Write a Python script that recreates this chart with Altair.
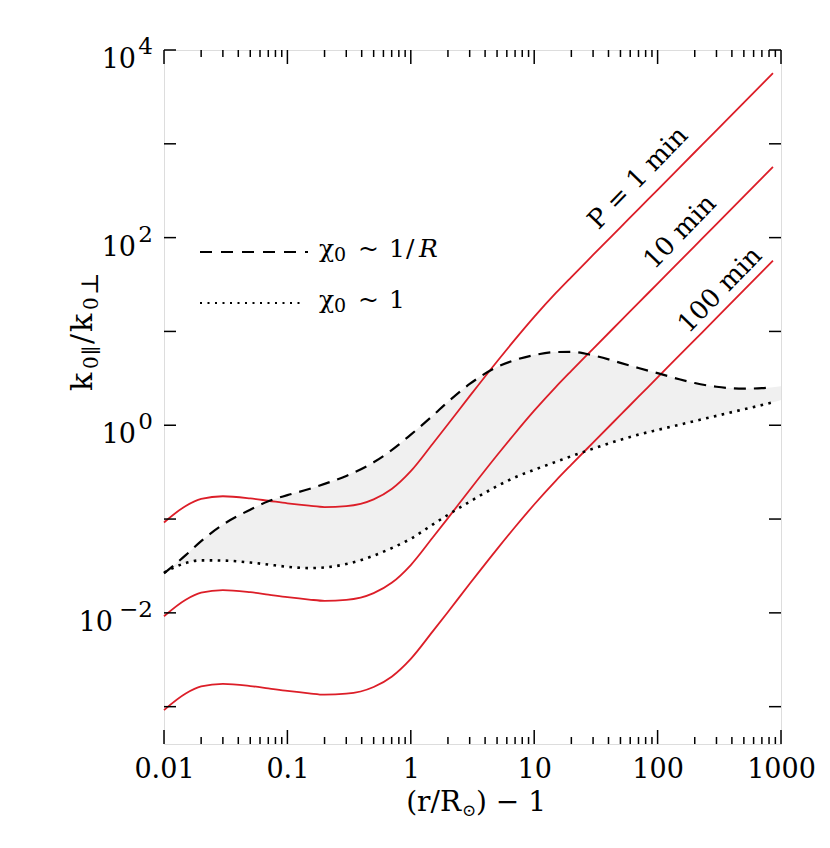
import altair as alt
import pandas as pd

# ---------------- data ----------------
X = [0.01, 0.015, 0.02, 0.03, 0.05, 0.07, 0.1, 0.15, 0.2, 0.3, 0.5, 0.7, 1, 1.5, 2, 3,
     5, 7, 10, 15, 20, 30, 50, 70, 100, 150, 200, 300, 500, 700, 860]
P1 = [0.0920, 0.1380, 0.1641, 0.1750, 0.1660, 0.1567, 0.1472, 0.1387, 0.1343, 0.1374,
      0.1622, 0.2089, 0.3236, 0.631, 1.023, 2.042, 4.786, 8.222, 14.29, 25.70, 38.02,
      65.31, 128.8, 201.4, 323.6, 554.6, 812.8, 1393, 2754, 4305, 5675]
P10 = [0.00920, 0.01380, 0.01641, 0.01750, 0.01660, 0.01567, 0.01472, 0.01387, 0.01343,
       0.01374, 0.01622, 0.02089, 0.03236, 0.0631, 0.1023, 0.2042, 0.4786, 0.8222, 1.429,
       2.570, 3.802, 6.531, 12.88, 20.14, 32.36, 55.46, 81.28, 139.3, 275.4, 430.5, 567.5]
P100 = [0.000920, 0.001380, 0.001641, 0.001750, 0.001660, 0.001567, 0.001472, 0.001387,
        0.001343, 0.001374, 0.001622, 0.002089, 0.003236, 0.00631, 0.01023, 0.02042,
        0.04786, 0.08222, 0.1429, 0.2570, 0.3802, 0.6531, 1.288, 2.014, 3.236, 5.546,
        8.128, 13.93, 27.54, 43.05, 56.75]
SERIES = ["P = 1 min", "10 min", "100 min"]

X_BAND = [0.01, 0.015, 0.02, 0.03, 0.05, 0.07, 0.1, 0.15, 0.2, 0.3, 0.5, 0.7, 1, 1.5, 2, 3,
          5, 7, 10, 15, 20, 30, 50, 70, 100, 150, 200, 300, 500, 700, 860, 1000]
CHI_INV_R = [0.0263, 0.0412, 0.0582, 0.0871, 0.1259, 0.1549, 0.1799, 0.2089, 0.2371,
             0.2884, 0.4027, 0.5433, 0.7943, 1.259, 1.778, 2.754, 4.169, 4.955, 5.598,
             6.026, 6.053, 5.559, 4.624, 4.074, 3.589, 3.090, 2.818, 2.570, 2.455, 2.483,
             2.541, 2.600]
CHI_ONE = [0.0269, 0.0340, 0.0363, 0.0361, 0.0344, 0.0327, 0.0310, 0.0300, 0.0305, 0.0331,
           0.0407, 0.0490, 0.0617, 0.0871, 0.1109, 0.1531, 0.2239, 0.2786, 0.3350, 0.4074,
           0.4677, 0.5623, 0.6998, 0.7943, 0.8913, 1.012, 1.109, 1.259, 1.479, 1.641,
           1.758, 1.862]

X_TICK_LABELS = [0.01, 0.1, 1, 10, 100, 1000]
Y_EXPONENTS = [-2, 0, 2, 4]
Y_DECADES = [-3, -2, -1, 0, 1, 2, 3, 4]

# ---------------- layout / style ----------------
W, H = 617, 694
FONT = "DejaVu Serif"
RED = "#dc1e28"

red_rows = []
for name, vals in zip(SERIES, [P1, P10, P100]):
    for x, y in zip(X, vals):
        red_rows.append({"x": x, "y": y, "series": name})
red_df = pd.DataFrame(red_rows)
band_df = pd.DataFrame({"x": X_BAND, "upper": CHI_INV_R, "lower": CHI_ONE})

xscale = alt.Scale(type="log", domain=[0.01, 1000], nice=False)
yscale = alt.Scale(type="log", domain=[4e-4, 1e4], nice=False)
xaxis = alt.Axis(values=X_TICK_LABELS, ticks=False, domain=False, grid=False, title=None,
                 labelFont=FONT, labelFontSize=27, labelColor="black", labelFlush=False,
                 labelOverlap=False, labelPadding=12,
                 labelExpr="datum.value < 1 ? format(datum.value, '.2~f') : format(datum.value, 'd')")


def X_(field):
    return alt.X(field, type="quantitative", scale=xscale, axis=xaxis)


def Y_(field):
    return alt.Y(field, type="quantitative", scale=yscale, axis=None)


band = alt.Chart(band_df).mark_area(color="#f0f0f0", interpolate="monotone").encode(
    x=X_("x"), y=Y_("lower"), y2="upper")

red = alt.Chart(red_df).mark_line(color=RED, strokeWidth=1.8, interpolate="monotone").encode(
    x=X_("x"), y=Y_("y"), detail="series:N")

dashed = alt.Chart(band_df).transform_filter("datum.x <= 900").mark_line(
    color="black", strokeWidth=2.2, strokeDash=[12, 8], interpolate="monotone").encode(
    x=X_("x"), y=Y_("upper"))

dotted = alt.Chart(band_df).transform_filter("datum.x <= 900").mark_line(
    color="black", strokeWidth=2.6, strokeDash=[2.6, 5.4], interpolate="monotone").encode(
    x=X_("x"), y=Y_("lower"))

# ---- inward ticks ----
major_x = pd.DataFrame({"v": X_TICK_LABELS})
minor_x = pd.DataFrame({"v": [k * d for d in X_TICK_LABELS[:-1] for k in range(2, 10)]})
ydec = pd.DataFrame({"v": [10.0 ** e for e in Y_DECADES]})

tick_layers = []
for df, L in [(major_x, 14), (minor_x, 7)]:
    tick_layers.append(alt.Chart(df).mark_rule(color="black", strokeWidth=1.5).encode(
        x=X_("v"), y=alt.value(H), y2=alt.value(H - L)))
    tick_layers.append(alt.Chart(df).mark_rule(color="black", strokeWidth=1.5).encode(
        x=X_("v"), y=alt.value(0), y2=alt.value(L)))
tick_layers.append(alt.Chart(ydec).mark_rule(color="black", strokeWidth=1.5).encode(
    y=Y_("v"), x=alt.value(0), x2=alt.value(12)))
tick_layers.append(alt.Chart(ydec).mark_rule(color="black", strokeWidth=1.5).encode(
    y=Y_("v"), x=alt.value(W), x2=alt.value(W - 12)))

# ---- y tick labels 10^n ----
ylab = pd.DataFrame({"v": [10.0 ** e for e in Y_EXPONENTS],
                     "e": [("\u2212" + str(-e)) if e < 0 else str(e) for e in Y_EXPONENTS],
                     "neg": [e < 0 for e in Y_EXPONENTS]})
ylab_layers = [
    alt.Chart(ylab).transform_filter("!datum.neg").mark_text(
        text="10", align="right", fontSize=27, font=FONT, color="black", dy=10).encode(
        y=Y_("v"), x=alt.value(-28)),
    alt.Chart(ylab).transform_filter("datum.neg").mark_text(
        text="10", align="right", fontSize=27, font=FONT, color="black", dy=10).encode(
        y=Y_("v"), x=alt.value(-51)),
    alt.Chart(ylab).mark_text(align="right", fontSize=23, font=FONT, color="black", dy=-3).encode(
        y=Y_("v"), x=alt.value(-11), text="e:N"),
]

one = pd.DataFrame({"a": [0]})


def txt(s, x, y, size=27, align="left", angle=0, style="normal", baseline="alphabetic"):
    return alt.Chart(one).mark_text(
        text=s, align=align, baseline=baseline, fontSize=size, font=FONT, angle=angle,
        fontStyle=style, color="black").encode(x=alt.value(x), y=alt.value(y))


annot = [
    # curve labels
    txt("P = 1 min", 474, 128, size=26, align="center", angle=314, baseline="middle"),
    txt("10 min", 516, 182, size=26, align="center", angle=314, baseline="middle"),
    txt("100 min", 556, 240, size=26, align="center", angle=314, baseline="middle"),
    # legend
    txt("\u03c7", 155, 207, size=25),
    txt("0", 170, 211, size=19),
    txt("~", 194, 207, size=25),
    txt("1", 225, 207, size=25),
    txt("/", 242, 207, size=25),
    txt("R", 255, 207, size=25, style="italic"),
    txt("\u03c7", 155, 258, size=25),
    txt("0", 170, 262, size=19),
    txt("~", 194, 258, size=25),
    txt("1", 225, 258, size=25),
    # x title
    txt("(r/R", 297, 761, size=28, align="right"),
    txt("\u2299", 298, 766, size=17),
    txt(") \u2212 1", 312, 761, size=28),
    # y title (rotated, reading upwards)
    txt("k", -72, 341, size=30, angle=270),
    txt("0", -66, 319, size=20, angle=270),
    txt("\u2225", -66, 305, size=20, angle=270),
    txt("/", -72, 294, size=30, angle=270),
    txt("k", -72, 282, size=30, angle=270),
    txt("0", -66, 260, size=20, angle=270),
    txt("\u22a5", -66, 245, size=24, angle=270),
]

legend_lines = [
    alt.Chart(one).mark_rule(color="black", strokeWidth=2.2, strokeDash=[12, 9]).encode(
        x=alt.value(36), x2=alt.value(144), y=alt.value(202)),
    alt.Chart(one).mark_rule(color="black", strokeWidth=2.2, strokeDash=[2, 5.5]).encode(
        x=alt.value(36), x2=alt.value(140), y=alt.value(253)),
]

chart = alt.layer(band, red, dashed, dotted, *tick_layers, *ylab_layers, *legend_lines,
                  *annot).properties(
    width=W, height=H,
    autosize=alt.AutoSizeParams(type="none"),
    padding={"left": 156, "top": 42, "right": 40, "bottom": 90},
).configure_view(stroke="black", strokeWidth=2).configure(background="white")

chart.save("out.html", embed_options={"renderer": "svg", "actions": False})
